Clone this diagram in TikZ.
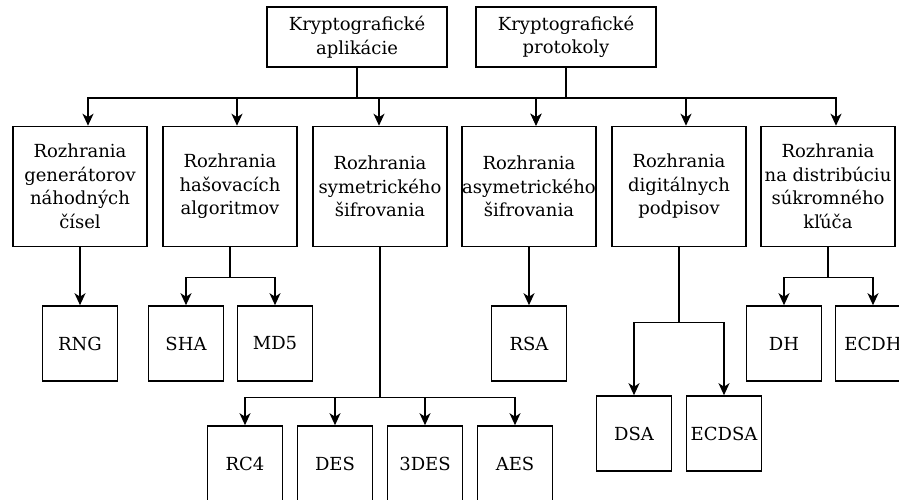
\documentclass[tikz,border=0pt]{standalone}
\usepackage{fontspec}
\setmainfont{DejaVu Serif}
\usetikzlibrary{arrows.meta}
\begin{document}
\begin{tikzpicture}[x=1pt,y=-1pt,
  box/.style={draw, line width=1.6pt, inner sep=0pt, align=center,
              font=\fontsize{18}{23.5}\selectfont},
  topbox/.style={box, minimum width=180pt, minimum height=60pt},
  ifacebox/.style={box, minimum width=134pt, minimum height=120pt},
  leafbox/.style={box, minimum width=75pt, minimum height=75pt},
  link/.style={line width=1.6pt, -{Stealth[length=12pt,width=11pt,inset=3.5pt]}}]
\useasboundingbox (0,0) rectangle (899,499);
\clip (0,0) rectangle (899,499);

% top level
\node[topbox] (app)  at (357,37) {Kryptografické\\aplikácie};
\node[topbox] (prot) at (566,37) {Kryptografické\\protokoly};

% interfaces
\node[ifacebox] (m1) at (80,186.5)  {Rozhrania\\generátorov\\náhodných\\čísel};
\node[ifacebox] (m2) at (230,186.5) {Rozhrania\\hašovacích\\algoritmov};
\node[ifacebox] (m3) at (380,186.5) {Rozhrania\\symetrického\\šifrovania};
\node[ifacebox] (m4) at (529,186.5) {Rozhrania\\asymetrického\\šifrovania};
\node[ifacebox] (m5) at (679,186.5) {Rozhrania\\digitálnych\\podpisov};
\node[ifacebox] (m6) at (828,186.5) {Rozhrania\\na distribúciu\\súkromného\\kľúča};

% algorithms
\node[leafbox] (rng)   at (80,343.5)  {RNG};
\node[leafbox] (sha)   at (186,343.5) {SHA};
\node[leafbox] (md5)   at (275,343.5) {MD5};
\node[leafbox] (rsa)   at (529,343.5) {RSA};
\node[leafbox] (dh)    at (784,343.5) {DH};
\node[leafbox] (ecdh)  at (873,343.5) {ECDH};
\node[leafbox] (rc4)   at (245,463.5) {RC4};
\node[leafbox] (des)   at (335,463.5) {DES};
\node[leafbox] (tdes)  at (425,463.5) {3DES};
\node[leafbox] (aes)   at (515,463.5) {AES};
\node[leafbox] (dsa)   at (634,433.5) {DSA};
\node[leafbox] (ecdsa) at (724,433.5) {ECDSA};

% top level to interfaces
\draw[link] (app.south)  -- ++(0,30) -| ([xshift=8pt]m1.north);
\draw[link] (app.south)  -- ++(0,30) -| ([xshift=7pt]m2.north);
\draw[link] (app.south)  -- ++(0,30) -| ([xshift=-1pt]m3.north);
\draw[link] (app.south)  -- ++(0,30) -| ([xshift=7pt]m4.north);
\draw[link] (prot.south) -- ++(0,30) -| ([xshift=7pt]m4.north);
\draw[link] (prot.south) -- ++(0,30) -| ([xshift=7pt]m5.north);
\draw[link] (prot.south) -- ++(0,30) -| ([xshift=8pt]m6.north);

% interfaces to algorithms
\draw[link] (m1.south) -- (rng.north);
\draw[link] (m2.south) -- ++(0,30) -| (sha.north);
\draw[link] (m2.south) -- ++(0,30) -| (md5.north);
\draw[link] (m3.south) -- ++(0,150) -| (rc4.north);
\draw[link] (m3.south) -- ++(0,150) -| (des.north);
\draw[link] (m3.south) -- ++(0,150) -| (tdes.north);
\draw[link] (m3.south) -- ++(0,150) -| (aes.north);
\draw[link] (m4.south) -- (rsa.north);
\draw[link] (m5.south) -- ++(0,75) -| (dsa.north);
\draw[link] (m5.south) -- ++(0,75) -| (ecdsa.north);
\draw[link] (m6.south) -- ++(0,30) -| (dh.north);
\draw[link] (m6.south) -- ++(0,30) -| (ecdh.north);
\end{tikzpicture}
\end{document}
